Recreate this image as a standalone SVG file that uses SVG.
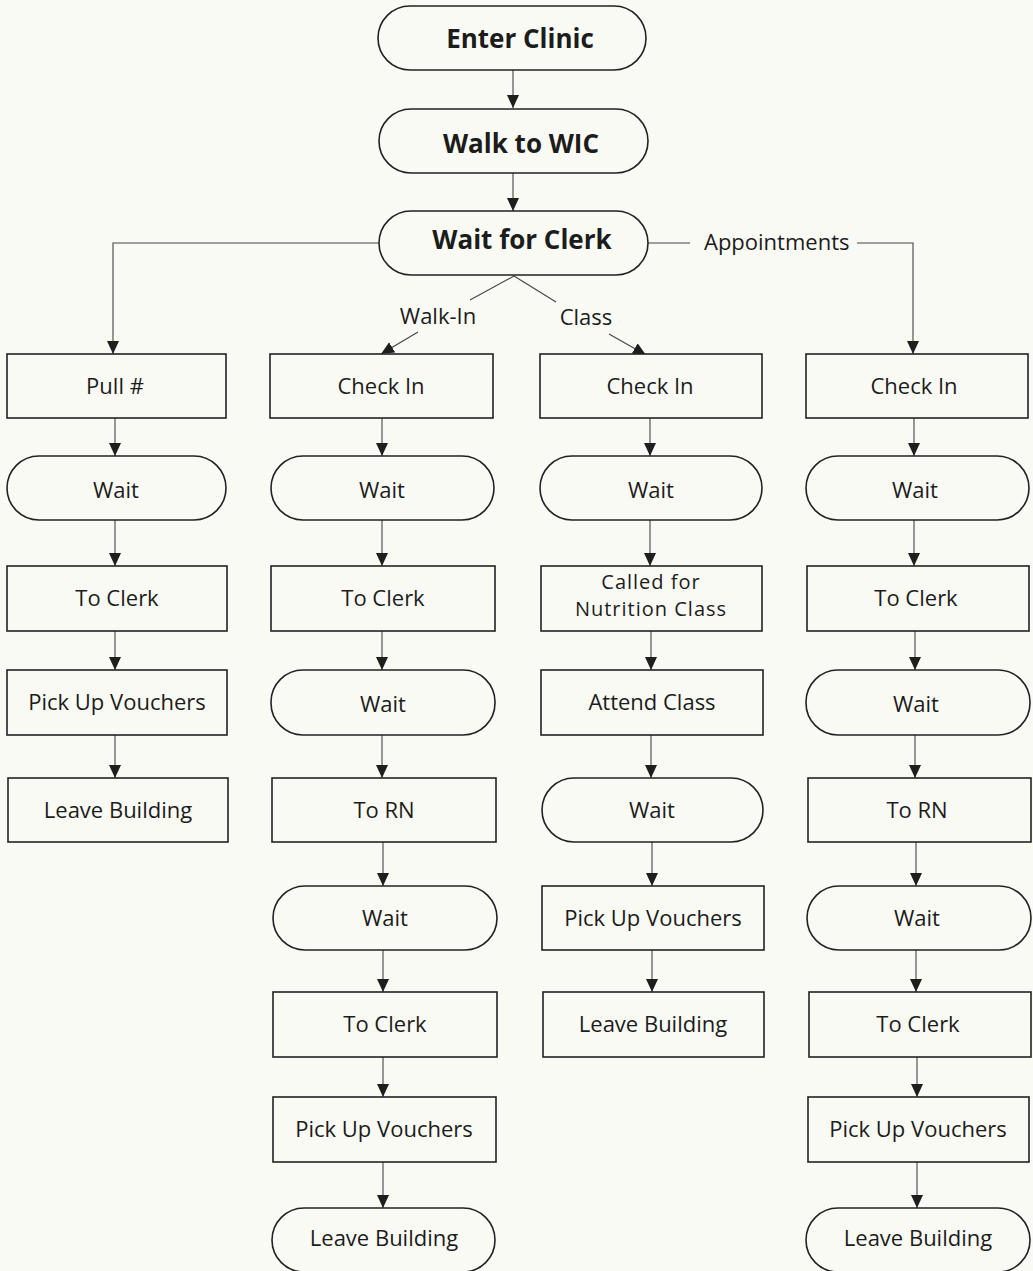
<svg xmlns="http://www.w3.org/2000/svg" width="1033" height="1271" viewBox="0 0 1033 1271">
<defs>
<marker id="ah" markerUnits="userSpaceOnUse" markerWidth="13" markerHeight="13" refX="13" refY="6.5" orient="auto" viewBox="0 0 13 13">
<path d="M0,0.5 L13,6.5 L0,12.5 z" fill="#1e1e1e"/>
</marker>
<style>
.bg{fill:#fafaf4}
.box{fill:#fafaf4;stroke:#222;stroke-width:1.6}
.t{font-family:"Open Sans","DejaVu Sans",sans-serif;font-size:22px;fill:#1c1c1c;text-anchor:middle}
.t2{font-family:"Open Sans","DejaVu Sans",sans-serif;font-size:20px;letter-spacing:1px;fill:#1c1c1c;text-anchor:middle}
.tb{font-family:"Open Sans","DejaVu Sans",sans-serif;font-size:26px;font-weight:bold;fill:#1c1c1c;text-anchor:middle}
.c{fill:none;stroke:#444;stroke-width:1.1}
.ca{fill:none;stroke:#444;stroke-width:1.1;marker-end:url(#ah)}
.lbl{font-family:"Open Sans","DejaVu Sans",sans-serif;font-size:22px;fill:#1c1c1c}
</style>
</defs>
<rect class="bg" x="0" y="0" width="1033" height="1271"/>

<g id="connectors">
<line class="ca" x1="513" y1="70" x2="513" y2="108"/>
<line class="ca" x1="513" y1="173" x2="513" y2="211"/>
<polyline class="ca" points="379,243 113,243 113,354"/>
<polyline class="c" points="648,243 690,243"/>
<polyline class="ca" points="857,243 913,243 913,354"/>
<line class="c" x1="514" y1="276" x2="470" y2="300"/>
<line class="ca" x1="418" y1="332" x2="381" y2="354"/>
<line class="c" x1="514" y1="276" x2="556" y2="302"/>
<line class="ca" x1="609" y1="334" x2="646" y2="355"/>
<!-- col1 -->
<line class="ca" x1="115" y1="418" x2="115" y2="456"/>
<line class="ca" x1="115" y1="520" x2="115" y2="566"/>
<line class="ca" x1="115" y1="631" x2="115" y2="670"/>
<line class="ca" x1="115" y1="735" x2="115" y2="778"/>
<!-- col2 -->
<line class="ca" x1="382" y1="418" x2="382" y2="456"/>
<line class="ca" x1="382" y1="520" x2="382" y2="566"/>
<line class="ca" x1="382" y1="631" x2="382" y2="670"/>
<line class="ca" x1="382" y1="735" x2="382" y2="778"/>
<line class="ca" x1="383" y1="842" x2="383" y2="886"/>
<line class="ca" x1="383" y1="950" x2="383" y2="992"/>
<line class="ca" x1="383" y1="1057" x2="383" y2="1097"/>
<line class="ca" x1="383" y1="1162" x2="383" y2="1208"/>
<!-- col3 -->
<line class="ca" x1="650" y1="418" x2="650" y2="456"/>
<line class="ca" x1="650" y1="520" x2="650" y2="566"/>
<line class="ca" x1="651" y1="631" x2="651" y2="670"/>
<line class="ca" x1="651" y1="735" x2="651" y2="778"/>
<line class="ca" x1="652" y1="842" x2="652" y2="886"/>
<line class="ca" x1="652" y1="950" x2="652" y2="992"/>
<!-- col4 -->
<line class="ca" x1="914" y1="418" x2="914" y2="456"/>
<line class="ca" x1="914" y1="520" x2="914" y2="566"/>
<line class="ca" x1="915" y1="631" x2="915" y2="670"/>
<line class="ca" x1="915" y1="735" x2="915" y2="778"/>
<line class="ca" x1="916" y1="842" x2="916" y2="886"/>
<line class="ca" x1="916" y1="950" x2="916" y2="992"/>
<line class="ca" x1="917" y1="1057" x2="917" y2="1097"/>
<line class="ca" x1="917" y1="1162" x2="917" y2="1208"/>
<text class="lbl" x="704" y="250">Appointments</text>
<text class="lbl" x="438" y="324" text-anchor="middle">Walk-In</text>
<text class="lbl" x="586" y="325" text-anchor="middle">Class</text>
</g>

<g id="enter-clinic"><rect class="box" x="378" y="6" width="268" height="64" rx="32"/><text class="tb" x="520" y="48">Enter Clinic</text></g>
<g id="walk-to-wic"><rect class="box" x="379" y="109" width="269" height="64" rx="32"/><text class="tb" x="521" y="153">Walk to WIC</text></g>
<g id="wait-for-clerk"><rect class="box" x="379" y="211" width="269" height="64" rx="32"/><text class="tb" x="522" y="249">Wait for Clerk</text></g>

<!-- column 1 -->
<g id="c1-pull"><rect class="box" x="7" y="354" width="219" height="64"/><text class="t" x="115" y="394">Pull #</text></g>
<g id="c1-wait"><rect class="box" x="7" y="456" width="219" height="64" rx="32"/><text class="t" x="116" y="498">Wait</text></g>
<g id="c1-clerk"><rect class="box" x="7" y="566" width="220" height="65"/><text class="t" x="117" y="606">To Clerk</text></g>
<g id="c1-vouchers"><rect class="box" x="7" y="670" width="220" height="65"/><text class="t" x="117" y="710">Pick Up Vouchers</text></g>
<g id="c1-leave"><rect class="box" x="8" y="778" width="220" height="64"/><text class="t" x="118" y="818">Leave Building</text></g>

<!-- column 2 -->
<g id="c2-checkin"><rect class="box" x="270" y="354" width="223" height="64"/><text class="t" x="381" y="394">Check In</text></g>
<g id="c2-wait1"><rect class="box" x="271" y="456" width="223" height="64" rx="32"/><text class="t" x="382" y="498">Wait</text></g>
<g id="c2-clerk1"><rect class="box" x="271" y="566" width="224" height="65"/><text class="t" x="383" y="606">To Clerk</text></g>
<g id="c2-wait2"><rect class="box" x="271" y="670" width="224" height="65" rx="32"/><text class="t" x="383" y="712">Wait</text></g>
<g id="c2-rn"><rect class="box" x="272" y="778" width="224" height="64"/><text class="t" x="384" y="818">To RN</text></g>
<g id="c2-wait3"><rect class="box" x="273" y="886" width="224" height="64" rx="32"/><text class="t" x="385" y="926">Wait</text></g>
<g id="c2-clerk2"><rect class="box" x="273" y="992" width="224" height="65"/><text class="t" x="385" y="1032">To Clerk</text></g>
<g id="c2-vouchers"><rect class="box" x="273" y="1097" width="223" height="65"/><text class="t" x="384" y="1137">Pick Up Vouchers</text></g>
<g id="c2-leave"><rect class="box" x="272" y="1208" width="223" height="64" rx="32"/><text class="t" x="384" y="1246">Leave Building</text></g>

<!-- column 3 -->
<g id="c3-checkin"><rect class="box" x="540" y="354" width="222" height="64"/><text class="t" x="650" y="394">Check In</text></g>
<g id="c3-wait1"><rect class="box" x="540" y="456" width="222" height="64" rx="32"/><text class="t" x="651" y="498">Wait</text></g>
<g id="c3-called"><rect class="box" x="541" y="566" width="221" height="65"/><text class="t2" x="651" y="589">Called for</text><text class="t2" x="651" y="616">Nutrition Class</text></g>
<g id="c3-attend"><rect class="box" x="541" y="670" width="222" height="65"/><text class="t" x="652" y="710">Attend Class</text></g>
<g id="c3-wait2"><rect class="box" x="542" y="778" width="221" height="64" rx="32"/><text class="t" x="652" y="818">Wait</text></g>
<g id="c3-vouchers"><rect class="box" x="542" y="886" width="222" height="64"/><text class="t" x="653" y="926">Pick Up Vouchers</text></g>
<g id="c3-leave"><rect class="box" x="543" y="992" width="221" height="65"/><text class="t" x="653" y="1032">Leave Building</text></g>

<!-- column 4 -->
<g id="c4-checkin"><rect class="box" x="806" y="354" width="222" height="64"/><text class="t" x="914" y="394">Check In</text></g>
<g id="c4-wait1"><rect class="box" x="806" y="456" width="223" height="64" rx="32"/><text class="t" x="915" y="498">Wait</text></g>
<g id="c4-clerk1"><rect class="box" x="807" y="566" width="222" height="65"/><text class="t" x="916" y="606">To Clerk</text></g>
<g id="c4-wait2"><rect class="box" x="806" y="670" width="224" height="65" rx="32"/><text class="t" x="916" y="712">Wait</text></g>
<g id="c4-rn"><rect class="box" x="808" y="778" width="223" height="64"/><text class="t" x="917" y="818">To RN</text></g>
<g id="c4-wait3"><rect class="box" x="807" y="886" width="224" height="64" rx="32"/><text class="t" x="917" y="926">Wait</text></g>
<g id="c4-clerk2"><rect class="box" x="809" y="992" width="222" height="65"/><text class="t" x="918" y="1032">To Clerk</text></g>
<g id="c4-vouchers"><rect class="box" x="808" y="1097" width="221" height="65"/><text class="t" x="918" y="1137">Pick Up Vouchers</text></g>
<g id="c4-leave"><rect class="box" x="806" y="1208" width="224" height="64" rx="32"/><text class="t" x="918" y="1246">Leave Building</text></g>
</svg>
